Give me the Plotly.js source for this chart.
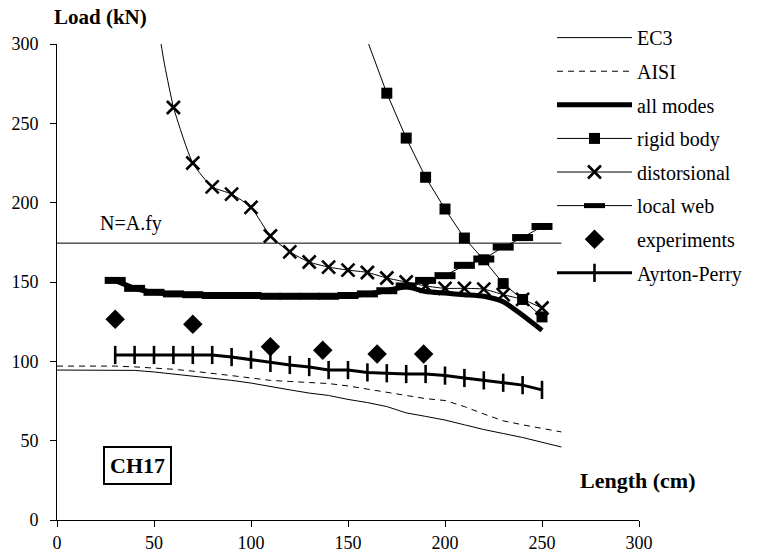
<!DOCTYPE html>
<html>
<head>
<meta charset="utf-8">
<script src="https://cdn.plot.ly/plotly-3.0.1.min.js"></script>
<style>html,body{margin:0;padding:0;background:#fff;}#chart{width:761px;height:553px;}</style>
</head>
<body>
<div id="chart"></div>
<script>
// ---- data ----
const codeLength = [0,10,20,30,40,50,60,70,80,90,100,110,120,130,140,150,160,170,180,190,200,210,220,230,240,250,260];
const ec3 = [94.5,94.5,94.5,94.5,94.3,93.3,92,90.8,89.5,88,86.3,84,82,80,78.5,76,74,71.5,67.5,65.3,63,60,57,54.5,52,49,46];
const aisi = [97,97,97,97,96.5,95.8,95,93.8,92.6,91,89.5,88,87.3,86.8,86,84.5,82.5,80.5,78.5,76.5,75.3,71.5,66.8,62.5,60,57.7,55.5];

const modeLength = [30,40,50,60,70,80,90,100,110,120,130,140,150,160,170,180,190,200,210,220,230,240,250];
const allModes = [151,146,143.5,142.5,142,141.5,141.5,141.5,141,141,141,141,141.5,142.5,144.5,147,144,143,142,141,137.5,129,119.5];
const localWeb = [151,146,143.5,142.5,142,141.5,141.5,141.5,141,141,141,141,141.5,142.5,144.5,147.5,151,154,160.5,164.5,172,178,185];
const ayrtonPerry = [104,104,104,104,104,104,102.7,101,99,97.7,96.4,94.5,94.5,93,92.5,92,92,91,89.5,88,86.5,85,82];

const rigidLength = [170,180,190,200,210,220,230,240,250];
const rigidBody = [269,240.7,216,196,177.7,164,149,139,128];
const rigidTopLength = [160,170];
const rigidTop = [302,269];

const distLength = [60,70,80,90,100,110,120,130,140,150,160,170,180,190,200,210,220,230,240,250];
const distorsional = [260,225,210,205.4,197,179,169,162.6,159.4,157.5,156,152.5,150,147.5,146,146,145.5,142,139,133.6];
const distTopLength = [50,55,60];
const distTop = [330,290,260];

const expLength = [30,70,110,137,165,189];
const experiments = [126.5,123.3,109.2,107,104.6,104.6];

const yieldLength = [0,260];
const yieldLoad = [174.5,174.5];

const xTicks = [0,50,100,150,200,250,300];
const yTicks = [0,50,100,150,200,250,300];

// ---- chart ----
const serif = 'Liberation Serif, Times New Roman, serif';
const thin = {color:'#000', width:1};
const traces = [
  {x:codeLength, y:ec3, name:'EC3', mode:'lines', line:thin, legendrank:1, legendgroup:'a'},
  {x:codeLength, y:aisi, name:'AISI', mode:'lines', line:{color:'#000', width:1, dash:'6px,5px'}, legendrank:2, legendgroup:'b'},
  {x:yieldLength, y:yieldLoad, mode:'lines', line:thin, showlegend:false},
  {x:rigidTopLength, y:rigidTop, mode:'lines', line:thin, showlegend:false},
  {x:distTopLength, y:distTop, mode:'lines', line:{color:'#000', width:1, shape:'spline'}, showlegend:false},
  {x:modeLength, y:allModes, name:'all modes', mode:'lines', line:{color:'#000', width:5, shape:'spline', smoothing:0.6}, legendrank:3, legendgroup:'c'},
  {x:rigidLength, y:rigidBody, name:'rigid body', mode:'lines+markers', line:thin,
   marker:{symbol:'square', size:11, color:'#000'}, legendrank:4, legendgroup:'d'},
  {x:distLength, y:distorsional, name:'distorsional', mode:'lines+markers', line:{color:'#000', width:1, shape:'spline', smoothing:0.6},
   marker:{symbol:'x-thin-open', size:13, line:{color:'#000', width:2.6}}, legendrank:5, legendgroup:'e'},
  {x:modeLength, y:localWeb, name:'local web', mode:'lines+markers', line:thin,
   marker:{symbol:'line-ew-open', size:15, line:{color:'#000', width:7}}, legendrank:6, legendgroup:'f'},
  {x:expLength, y:experiments, name:'experiments', mode:'markers',
   marker:{symbol:'diamond', size:15, color:'#000'}, legendrank:7, legendgroup:'g'},
  {x:modeLength, y:ayrtonPerry, name:'Ayrton-Perry', mode:'lines+markers', line:{color:'#000', width:3},
   marker:{symbol:'line-ns-open', size:13, line:{color:'#000', width:2.6}}, legendrank:8, legendgroup:'h'}
];

const layout = {
  width:761, height:553,
  margin:{l:57, r:122, t:44, b:33},
  paper_bgcolor:'#fff', plot_bgcolor:'#fff',
  font:{family:serif, size:18, color:'#000'},
  showlegend:true,
  legend:{x:0.8505, xanchor:'left', y:0.7655, yanchor:'middle', bgcolor:'rgba(0,0,0,0)',
          font:{family:serif, size:20, color:'#000'}, itemwidth:75, traceorder:'grouped', tracegroupgap:4.6},
  xaxis:{range:[0,300], tickvals:xTicks, showline:true, linecolor:'#000', linewidth:1, ticks:'outside', ticklen:6,
         tickcolor:'#000', showgrid:false, zeroline:false, tickfont:{family:serif, size:18}},
  yaxis:{range:[0,300], tickvals:yTicks, showline:true, linecolor:'#000', linewidth:1, ticks:'outside', ticklen:6,
         tickcolor:'#000', showgrid:false, zeroline:false, tickfont:{family:serif, size:18}, ticklabelstandoff:8},
  annotations:[
    {text:'<b>Load (kN)</b>', xref:'paper', yref:'paper', x:0.0756, y:1.0567, xanchor:'center', yanchor:'middle', showarrow:false, font:{family:serif, size:21}},
    {text:'<b>Length (cm)</b>', xref:'paper', yref:'paper', x:0.9966, y:0.084, xanchor:'center', yanchor:'middle', showarrow:false, font:{family:serif, size:22}},
    {text:'<b>CH17</b>', xref:'paper', yref:'paper', x:0.139, y:0.1155, xanchor:'center', yanchor:'middle', showarrow:false, font:{family:serif, size:22},
     bordercolor:'#000', borderwidth:2, borderpad:5},
    {text:'N=A.fy', xref:'x', yref:'y', x:21, y:187, xanchor:'left', yanchor:'middle', showarrow:false, font:{family:serif, size:20}}
  ]
};

Plotly.newPlot('chart', traces, layout, {staticPlot:true, displayModeBar:false});
</script>
</body>
</html>
